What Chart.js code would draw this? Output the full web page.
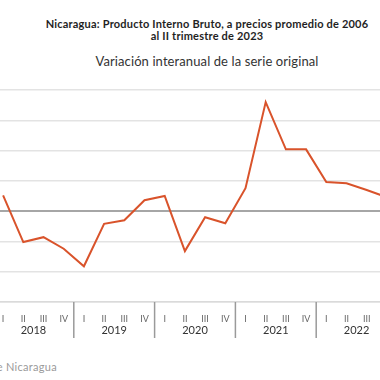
<!DOCTYPE html>
<html>
<head>
<meta charset="utf-8">
<script src="https://cdn.jsdelivr.net/npm/chart.js@4"></script>
<style>
  html, body { margin: 0; padding: 0; background: #fff; }
  body { width: 380px; height: 380px; overflow: hidden; position: relative; font-family: Lato, "Open Sans", sans-serif; }
  .titulo { position: absolute; left: 0; width: 414px; text-align: center; color: #1f1f1f; font-weight: bold; font-size: 11px; letter-spacing: 0.2px; line-height: 12px; top: 18px; }
  .subtitulo { position: absolute; left: 0; width: 414px; text-align: center; color: #333; font-size: 13px; letter-spacing: 0.1px; top: 53px; }
  .fuente { position: absolute; right: calc(100% - 57px); top: 360px; white-space: nowrap; color: #9a9a9a; font-size: 11px; letter-spacing: 0.3px; }
  #wrap { position: absolute; left: -7px; top: 80px; width: 404px; height: 270px; }
</style>
</head>
<body>
<div class="titulo">Nicaragua: Producto Interno Bruto, a precios promedio de 2006<br>al II trimestre de 2023</div>
<div class="subtitulo">Variación interanual de la serie original</div>
<div class="fuente">Fuente: Banco Central de Nicaragua</div>
<div id="wrap"><canvas id="grafico"></canvas></div>
<script>
// Años y trimestres del eje horizontal
const anios = ['2018', '2019', '2020', '2021', '2022'];
const trimestres = ['I', 'II', 'III', 'IV'];

// Variación interanual (%), 2018-I a 2022-IV
const variacion = [
  2.6, -5.1, -4.3, -6.2,
  -9.1, -2.1, -1.5, 1.8,
  2.5, -6.6, -1.0, -2.0,
  3.8, 18.0, 10.2, 10.2,
  4.8, 4.6, 3.5, 2.3
];

// Etiquetas: un trimestre por cada punto
const etiquetas = [];
anios.forEach(() => trimestres.forEach(t => etiquetas.push(t)));

// Plugin para poner los años y las líneas que separan cada año
const gruposAnios = {
  id: 'gruposAnios',
  afterDraw(chart) {
    const ctx = chart.ctx;
    const x = chart.scales.x;
    const abajo = chart.chartArea.bottom;
    ctx.save();
    ctx.fillStyle = '#333';
    ctx.font = '11px Lato, "Open Sans", sans-serif';
    ctx.textAlign = 'center';
    ctx.textBaseline = 'middle';
    anios.forEach((anio, i) => {
      const ini = x.getPixelForValue(i * 4);
      const fin = x.getPixelForValue(i * 4 + 3);
      ctx.fillText(anio, (ini + fin) / 2, abajo + 28);
      if (i > 0) {
        const sep = (x.getPixelForValue(i * 4 - 1) + ini) / 2;
        ctx.strokeStyle = '#9a9a9a';
        ctx.lineWidth = 1.5;
        ctx.beginPath();
        ctx.moveTo(sep, abajo);
        ctx.lineTo(sep, abajo + 36);
        ctx.stroke();
      }
    });
    ctx.restore();
  }
};

new Chart(document.getElementById('grafico'), {
  type: 'line',
  data: {
    labels: etiquetas,
    datasets: [{
      data: variacion,
      borderColor: '#d9532b',
      borderWidth: 2,
      pointRadius: 0,
      tension: 0,
      fill: false
    }]
  },
  options: {
    responsive: true,
    maintainAspectRatio: false,
    animation: false,
    layout: { padding: { top: 10, bottom: 8, left: 0, right: 0 } },
    plugins: { legend: { display: false }, tooltip: { enabled: false } },
    scales: {
      x: {
        offset: true,
        grid: { display: false },
        border: { color: '#dadada', width: 1.5 },
        ticks: { color: '#666', font: { size: 9, family: 'Lato' }, padding: 4, autoSkip: false, maxRotation: 0 },
        afterFit: s => { s.height = 40; }
      },
      y: {
        min: -15,
        max: 20,
        ticks: { display: false, stepSize: 5 },
        border: { display: false },
        grid: {
          drawTicks: false,
          color: c => c.tick.value === 0 ? '#a6a6a6' : '#e3e3e3',
          lineWidth: c => c.tick.value === 0 ? 2 : 1.5
        },
        afterFit: s => { s.width = 0; }
      }
    }
  },
  plugins: [gruposAnios]
});
</script>
</body>
</html>
